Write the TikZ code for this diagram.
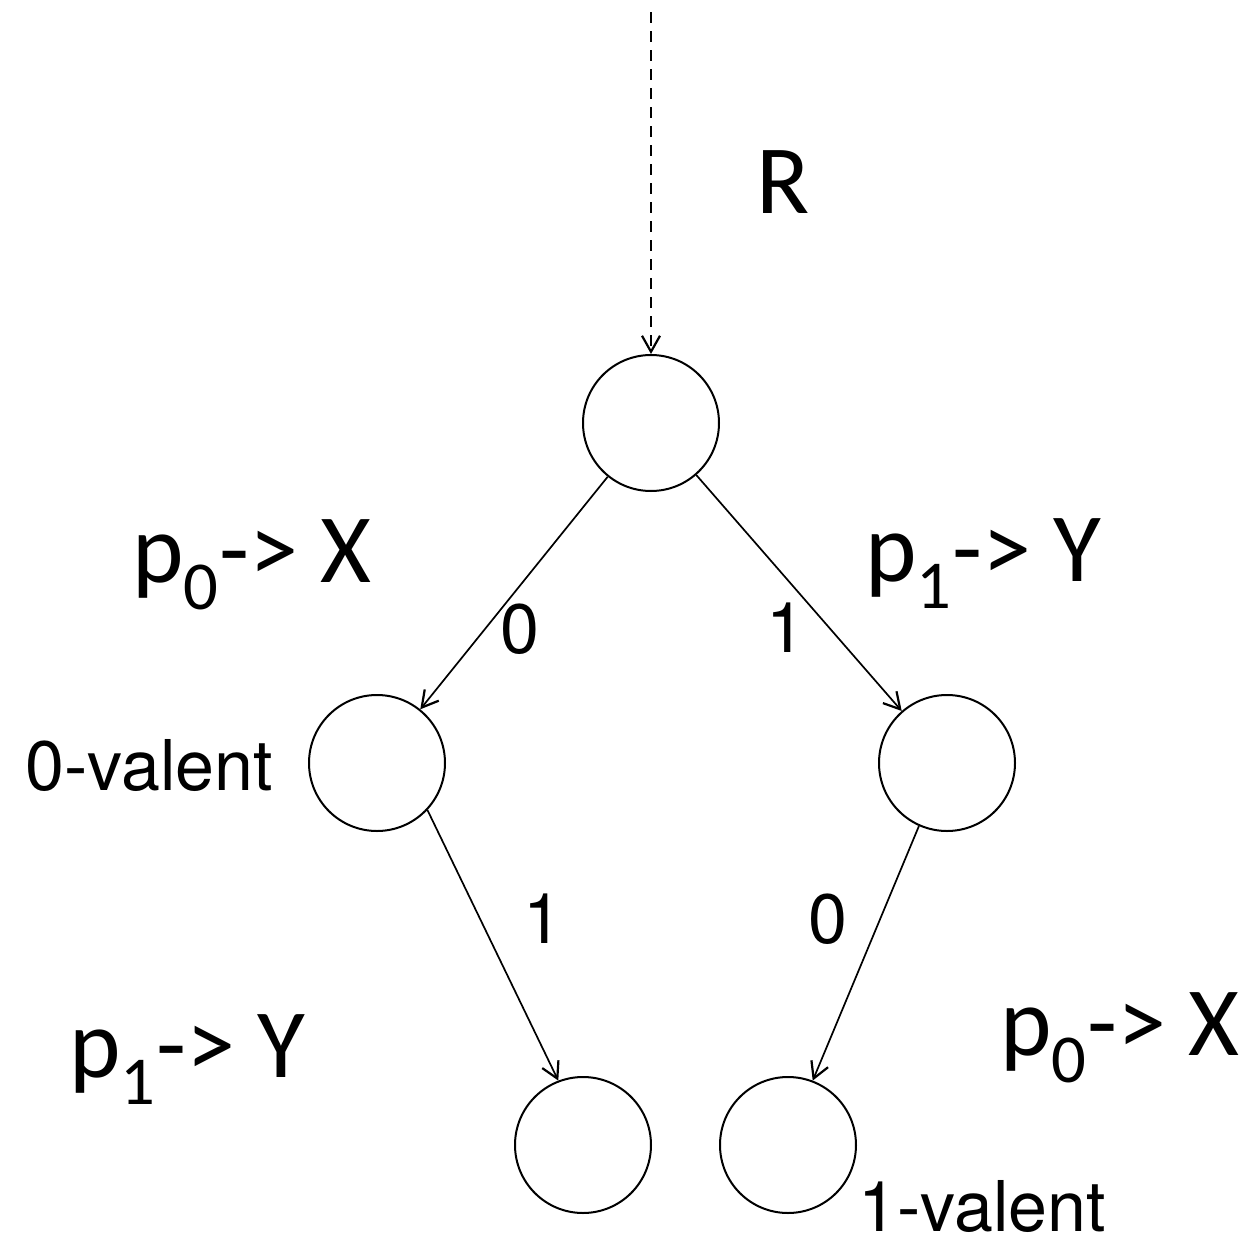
\documentclass[tikz,border=0pt]{standalone}
\usepackage{fontspec}
\usepackage{tikz}
\usetikzlibrary{positioning, arrows.meta}

\newfontfamily\bigfont{Carlito}
\newfontfamily\smallfont{TeX Gyre Heros}

\tikzset{
  state/.style={circle, draw, line width=1pt, minimum size=68pt, inner sep=0pt},
  trans/.style={-{Straight Barb[length=8pt, width=9pt, line width=1.1pt]}, line width=0.85pt},
  biglabel/.style={anchor=base west, inner sep=0pt, font=\bigfont\fontsize{49}{58}\selectfont},
  smalllabel/.style={anchor=base west, inner sep=0pt, font=\smallfont\fontsize{35}{42}\selectfont},
  edgelabel/.style={anchor=base, inner sep=0pt, font=\smallfont\fontsize{35}{42}\selectfont}
}

\begin{document}
\begin{tikzpicture}[x=0.5pt, y=-0.5pt]
        \useasboundingbox (0,0) rectangle (1244,1237);

        % States
        \node[state] (root) at (651,423) {};
        \node[state] (zero) at (377,763) {};
        \node[state] (one) at (947,763) {};
        \node[state] (zeroone) at (583,1145) {};
        \node[state] (onezero) at (788,1145) {};

        % Incoming run
        \coordinate (start) at (651,12);
        \draw[trans, line width=1pt, dash pattern=on 5.5pt off 4pt] (start) -- (root);
        \node[biglabel] (run) at (756,213) {R};

        % Steps
        \draw[trans] (root) -- (zero);
        \draw[trans] (root) -- (one);
        \draw[trans] (zero.-43) -- (zeroone.111);
        \draw[trans] (one.-114) -- (onezero.69);

        % Step labels
        \node[edgelabel] (lbla) at (520,653) {0};
        \node[edgelabel] (lblb) at (786,652) {1};
        \node[edgelabel] (lblc) at (543,943) {1};
        \node[edgelabel] (lbld) at (828,943) {0};

        % Moves
        \node[biglabel] (mova) at (132,582) {p\textsubscript{0}-> X};
        \node[biglabel] (movb) at (865,581) {p\textsubscript{1}-> Y};
        \node[biglabel] (movc) at (69,1077) {p\textsubscript{1}-> Y};
        \node[biglabel] (movd) at (1000,1055) {p\textsubscript{0}-> X};

        % Valence
        \node[smalllabel] (vala) at (25,790) {0-valent};
        \node[smalllabel] (valb) at (858,1231) {1-valent};
      \end{tikzpicture}
\end{document}
